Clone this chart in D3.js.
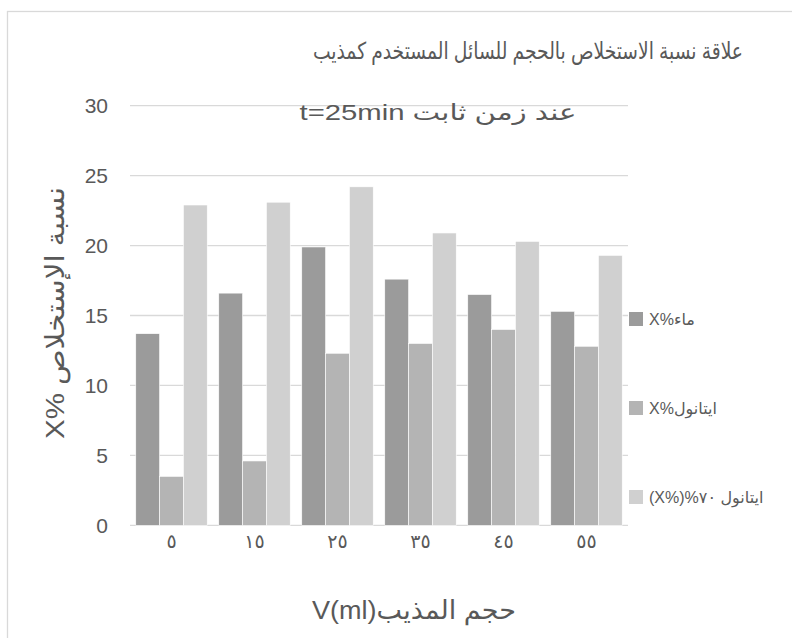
<!DOCTYPE html>
<html>
<head>
<meta charset="utf-8">
<script src="https://cdn.jsdelivr.net/npm/d3@7"></script>
<style>
    body { margin: 0; background: #fff; }
    text { font-family: "Liberation Sans", Arial, "DejaVu Sans", sans-serif; fill: #595959; }
</style>
</head>
<body>
<svg width="792" height="638"></svg>
<script>
// categories (solvent volume, ml) shown with arabic-indic digits
var categories = ["٥", "١٥", "٢٥", "٣٥", "٤٥", "٥٥"];
var seriesNames = ["X%ماء", "X%ايتانول", "(X%)%\u202D٧٠\u202C ايتانول"];
var waterValues = [13.7, 16.6, 19.9, 17.6, 16.5, 15.3];
var ethanolValues = [3.5, 4.6, 12.3, 13.0, 14.0, 12.8];
var ethanol70Values = [22.9, 23.1, 24.2, 20.9, 20.3, 19.3];
var yTicks = [0, 5, 10, 15, 20, 25, 30];
var colors = ["#9b9b9b", "#b4b4b4", "#d0d0d0"];

var svg = d3.select("svg");

var plotLeft = 130, plotRight = 628, plotTop = 105.7, plotBottom = 525.3;

//chart area border
svg.append("rect")
    .attr("x", 7.5)
    .attr("y", 11.5)
    .attr("width", 800)
    .attr("height", 700)
    .attr("fill", "none")
    .attr("stroke", "#d9d9d9")
    .attr("stroke-width", 1.3);

//scales
var x0 = d3.scaleBand().domain(categories).range([plotLeft, plotRight])
    .paddingInner(0.139).paddingOuter(0.0695);
var x1 = d3.scaleBand().domain([0, 1, 2]).range([0, x0.bandwidth()]);
var y = d3.scaleLinear().domain([0, 30]).range([plotBottom, plotTop]);

//gridlines
svg.append("g")
    .selectAll("line")
    .data(yTicks)
    .enter().append("line")
    .attr("x1", plotLeft)
    .attr("x2", plotRight)
    .attr("y1", function (d) { return y(d); })
    .attr("y2", function (d) { return y(d); })
    .attr("stroke", "#d9d9d9")
    .attr("stroke-width", 1.3);

//y axis labels
var yAxis = svg.append("g")
    .attr("transform", "translate(" + (plotLeft - 22) + ",0)")
    .call(d3.axisLeft(y).tickValues(yTicks).tickSize(0).tickPadding(0));
yAxis.select(".domain").remove();
yAxis.selectAll("text")
    .attr("font-size", "21px")
    .attr("font-family", "Liberation Sans, Arial, sans-serif")
    .attr("fill", "#595959");

//x axis labels
var xAxis = svg.append("g")
    .attr("transform", "translate(0," + plotBottom + ")")
    .call(d3.axisBottom(x0).tickSize(0).tickPadding(9));
xAxis.select(".domain").remove();
xAxis.selectAll("text")
    .attr("font-size", "19px")
    .attr("font-family", "DejaVu Sans, sans-serif")
    .attr("fill", "#595959");

//bars
var rows = categories.map(function (c, i) {
    return [waterValues[i], ethanolValues[i], ethanol70Values[i]];
});

svg.append("g")
    .selectAll("g")
    .data(rows)
    .enter().append("g")
    .attr("transform", function (d, i) { return "translate(" + x0(categories[i]) + ",0)"; })
    .selectAll("rect")
    .data(function (d) { return d; })
    .enter().append("rect")
    .attr("x", function (d, j) { return x1(j); })
    .attr("y", function (d) { return y(d); })
    .attr("width", x1.bandwidth())
    .attr("height", function (d) { return plotBottom - y(d); })
    .attr("fill", function (d, j) { return colors[j]; })
    .attr("stroke", "#ffffff")
    .attr("stroke-width", 0.6);

//legend
var legend = svg.append("g")
    .selectAll("g")
    .data(seriesNames)
    .enter().append("g")
    .attr("transform", function (d, i) { return "translate(629," + (319 + i * 89) + ")"; });

legend.append("rect")
    .attr("x", 0)
    .attr("y", -7)
    .attr("width", 14)
    .attr("height", 14)
    .attr("fill", function (d, i) { return colors[i]; });

legend.append("text")
    .attr("x", 20)
    .attr("y", 5.5)
    .attr("font-size", "16px")
    .text(function (d) { return d; });

//title (two lines)
svg.append("text")
    .attr("x", 528)
    .attr("y", 59)
    .attr("text-anchor", "middle")
    .attr("font-size", "23.5px")
    .attr("textLength", 430)
    .attr("lengthAdjust", "spacingAndGlyphs")
    .text("علاقة نسبة الاستخلاص بالحجم للسائل المستخدم كمذيب");

svg.append("text")
    .attr("x", 438)
    .attr("y", 120)
    .attr("text-anchor", "middle")
    .attr("font-size", "22px")
    .attr("textLength", 277)
    .attr("lengthAdjust", "spacingAndGlyphs")
    .text("t=25min عند زمن ثابت");

//axis titles
svg.append("text")
    .attr("x", 414)
    .attr("y", 619)
    .attr("text-anchor", "middle")
    .attr("font-size", "26px")
    .attr("textLength", 204)
    .attr("lengthAdjust", "spacingAndGlyphs")
    .text("V(ml)حجم المذيب");

svg.append("text")
    .attr("transform", "translate(64,313) rotate(-90)")
    .attr("text-anchor", "middle")
    .attr("font-size", "26px")
    .attr("textLength", 252)
    .attr("lengthAdjust", "spacingAndGlyphs")
    .text("X% نسبة الإستخلاص");
</script>
</body>
</html>
